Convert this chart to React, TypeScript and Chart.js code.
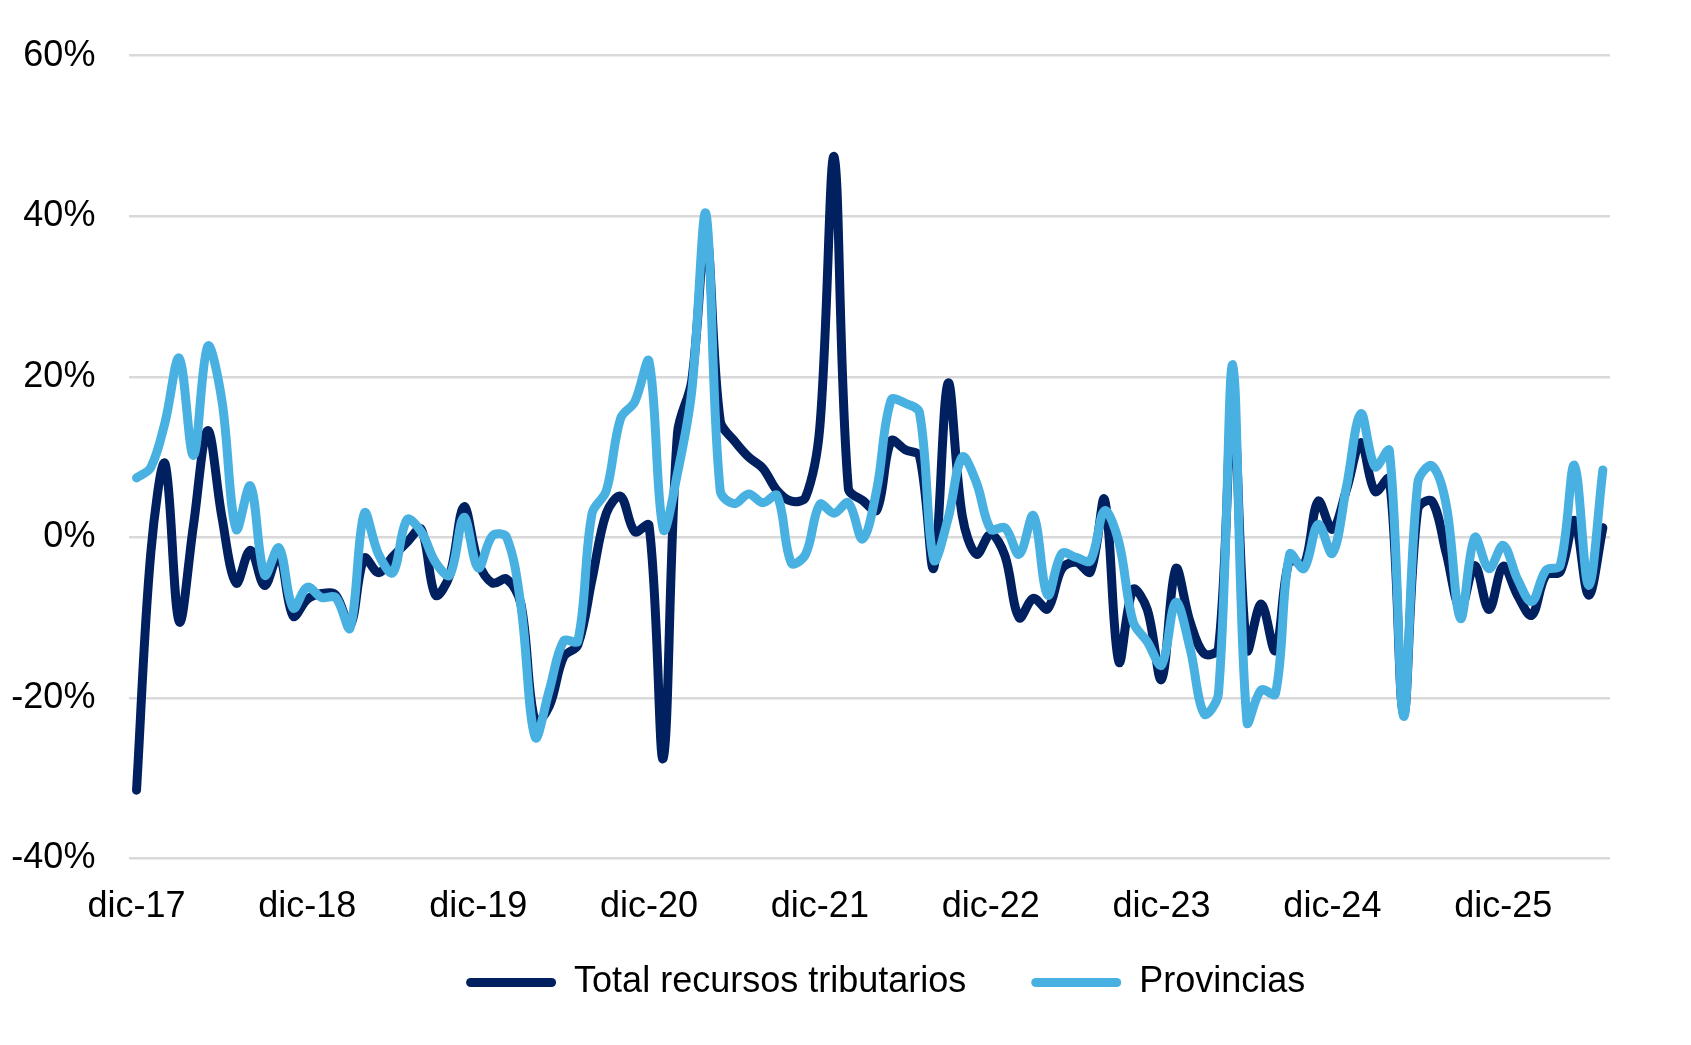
import React, { useEffect, useRef } from "react";
import { Chart, registerables } from "chart.js";

Chart.register(...registerables);

// Month abbreviations (Spanish) used to build the category labels, starting at dic-17
const MONTHS = ["ene", "feb", "mar", "abr", "may", "jun", "jul", "ago", "sep", "oct", "nov", "dic"];
const FIRST_YEAR = 17;
const N_POINTS = 104;
const CATEGORIES: string[] = [];
for (let i = 0; i < N_POINTS; i++) {
  const m = (11 + i) % 12;
  const y = FIRST_YEAR + Math.floor((11 + i) / 12);
  CATEGORIES.push(`${MONTHS[m]}-${y}`);
}
const LABEL_EVERY = 12;

const Y_MIN = -40;
const Y_MAX = 60;
const Y_STEP = 20;

const SERIES_NAMES = ["Total recursos tributarios", "Provincias"];

// Total recursos tributarios (% var.)
const TOTAL = [
  -31.5, -2, 9.2, -10.5, 1.5, 13.3, 2.5, -5.7, -1.6, -6, -2.1, -9.8,
  -7.7, -7, -7.2, -11, -2.6, -4.4, -2.4, -0.6, 1, -7.2, -4.7, 3.8,
  -3.1, -5.7, -5.2, -8.3, -23, -21, -14.9, -13.4, -5.2, 3, 5.1, 0.7,
  1.5, -27.5, 13, 19.5, 38, 14.5, 12, 10, 8.6, 5.8, 4.5, 5,
  13.8, 47.4, 6.1, 4.6, 3.4, 12, 10.9, 10.1, -3.8, 19.2, 2.7, -2.1,
  0.4, -2.3, -10, -7.6, -8.9, -3.9, -3.1, -4.3, 4.7, -15.5, -6.5, -9,
  -17.7, -3.9, -10.5, -14.5, -13.8, 17, -14, -8.3, -14.1, -2.7, -3.5, 4.5,
  1, 6, 11.8, 5.7, 7.3, -22, 3.5, 4.5, -2, -8.9, -3.5, -9,
  -3.6, -7.2, -9.7, -4.7, -4.3, 2.1, -7.2, 1.2,
];

// Provincias (% var.)
const PROVINCIAS = [
  7.4, 8.7, 14.3, 22.3, 10.2, 23.8, 17, 1, 6.4, -4.7, -1.3, -8.8,
  -6.2, -7.5, -7.5, -11.3, 3, -2.1, -4.4, 2.2, 0.7, -3.1, -4.7, 2.5,
  -3.8, 0.2, 0, -8.5, -24.9, -19, -12.9, -12.9, 3, 5.8, 14.8, 16.9,
  21.9, 1, 8, 18.2, 40.3, 5.8, 4.2, 5.4, 4.3, 5.2, -3.2, -2.1,
  4.1, 3, 4.3, -0.2, 6, 17.1, 16.7, 15.5, -2.8, 2.3, 10, 6.8,
  1, 1.2, -2.1, 2.7, -7.2, -2, -2.5, -2.9, 3.3, -0.6, -10.5, -13,
  -15.9, -8.1, -13.8, -22, -19.4, 21.5, -23, -19, -19.5, -2.1, -3.9, 1.6,
  -2, 6.4, 15.4, 8.8, 10.8, -22.3, 6.8, 8.9, 4, -10.1, 0, -3.9,
  -1, -5.2, -8, -4.1, -3.5, 9, -6, 8.4,
];

const COLORS = ["#002060", "#48B1E1"];
const FONT = "'Liberation Sans', Arial, Helvetica, sans-serif";

export default function App() {
  const canvasRef = useRef<HTMLCanvasElement | null>(null);

  useEffect(() => {
    if (!canvasRef.current) return;
    // place the legend row like the reference
    const legendNudge = {
      id: "legendNudge",
      afterLayout(chart: any) {
        const lg = chart.legend;
        if (lg) {
          const h = lg.bottom - lg.top;
          lg.left += 16;
          lg.right += 16;
          lg.top = 899.5;
          lg.bottom = lg.top + h;
        }
      },
    };
    const chart = new Chart(canvasRef.current, {
      type: "line",
      data: {
        labels: CATEGORIES,
        datasets: [
          {
            label: SERIES_NAMES[0],
            data: TOTAL,
            borderColor: COLORS[0],
            backgroundColor: COLORS[0],
            borderWidth: 9,
            pointRadius: 0,
            tension: 0.35,
            borderCapStyle: "round",
            borderJoinStyle: "round",
            order: 1,
          },
          {
            label: SERIES_NAMES[1],
            data: PROVINCIAS,
            borderColor: COLORS[1],
            backgroundColor: COLORS[1],
            borderWidth: 9,
            pointRadius: 0,
            tension: 0.35,
            borderCapStyle: "round",
            borderJoinStyle: "round",
            order: 0,
          },
        ],
      },
      options: {
        responsive: false,
        animation: false,
        devicePixelRatio: 1,
        layout: { padding: { top: 47, right: 81, left: 0, bottom: 5.5 } },
        plugins: {
          tooltip: { enabled: false },
          legend: {
            position: "bottom",
            fullSize: false,
            labels: {
              font: { family: FONT, size: 36 },
              color: "#000000",
              boxWidth: 90,
              boxHeight: 9,
              padding: 65,
              useBorderRadius: true,
              borderRadius: 4.5,
              generateLabels: (c: any) =>
                c.data.datasets.map((ds: any, i: number) => ({
                  text: ds.label,
                  fillStyle: ds.borderColor,
                  strokeStyle: ds.borderColor,
                  lineWidth: 0,
                  hidden: false,
                  datasetIndex: i,
                  borderRadius: 4.5,
                  fontColor: "#000000",
                })),
            },
          },
        },
        scales: {
          x: {
            type: "category",
            offset: true,
            grid: { display: false },
            border: { display: false },
            afterFit: (s: any) => {
              s.height = 70;
            },
            ticks: {
              autoSkip: false,
              maxRotation: 0,
              minRotation: 0,
              padding: 19,
              color: "#000000",
              font: { family: FONT, size: 36 },
              callback: (_v: any, idx: number) => (idx % LABEL_EVERY === 0 ? CATEGORIES[idx] : ""),
            },
          },
          y: {
            min: Y_MIN,
            max: Y_MAX,
            grid: { color: "#D9D9D9", lineWidth: 2.5, drawTicks: false },
            border: { display: false },
            afterFit: (s: any) => {
              s.width = 129.4;
            },
            ticks: {
              stepSize: Y_STEP,
              padding: 34,
              color: "#000000",
              font: { family: FONT, size: 36 },
              callback: (v: any) => `${v}%`,
            },
          },
        },
      },
      plugins: [legendNudge],
    } as any);
    return () => chart.destroy();
  }, []);

  return (
    <div style={{ position: "absolute", left: 0, top: 0, width: 1691, height: 1045, background: "#ffffff" }}>
      <canvas ref={canvasRef} width={1691} height={1045} />
    </div>
  );
}
